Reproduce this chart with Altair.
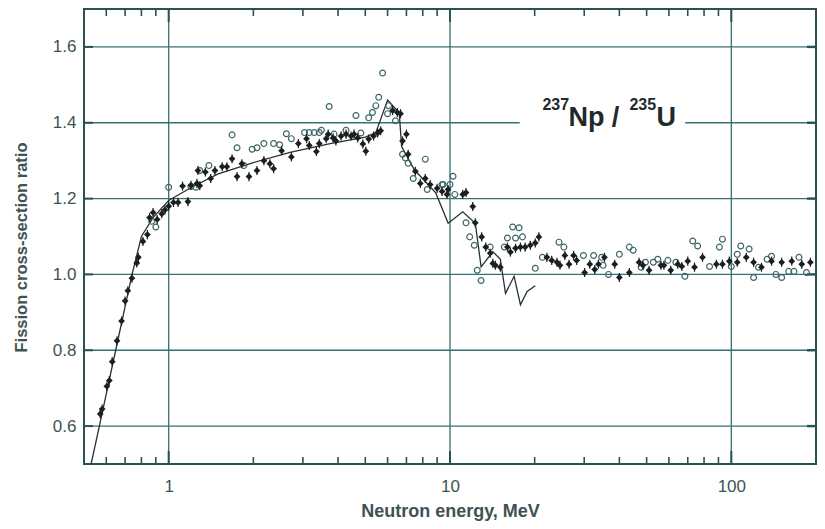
import altair as alt
import pandas as pd

# ---------------- data ----------------
filled_E = [0.571, 0.58, 0.603, 0.615, 0.63, 0.655, 0.68, 0.70, 0.716, 0.74, 0.77, 0.78, 0.81, 0.84,
            0.855, 0.88, 0.91, 0.945, 0.97, 1.0, 1.04, 1.08, 1.12, 1.17, 1.2, 1.26,
            1.27, 1.29, 1.35, 1.41, 1.46, 1.55, 1.61, 1.68, 1.75, 1.82, 1.93, 2.06, 2.18, 2.29, 2.36,
            2.52, 2.73, 2.89, 3.09, 3.16, 3.35, 3.43, 3.63, 3.69, 3.84, 3.93, 4.1, 4.27, 4.45, 4.56,
            4.7, 4.9, 5.02, 5.14, 5.35, 5.53, 5.67, 6.25, 6.5, 6.67, 6.78, 7.0, 7.1, 7.53, 7.84, 8.17,
            8.5, 9.0, 9.37, 9.76, 9.84, 11.1, 11.4, 12.05, 12.3, 12.96, 13.4, 13.9, 14.2, 14.5, 15.1,
            16.0, 16.4, 17.1, 17.8, 18.5, 19.3, 20.1, 20.7, 22.1, 23.0, 24.0, 24.6, 25.6, 26.5, 27.5,
            28.2, 30.1, 31.4, 32.7, 33.7, 35.4, 38.5, 40.0, 43.4, 47.0, 48.5, 51.0, 56.2, 57.6, 60.9,
            64.5, 66.7, 70, 74, 79, 88.5, 93, 98.4, 105, 113, 120, 128, 139, 151, 164, 178, 191]
filled_R = [0.632, 0.645, 0.705, 0.72, 0.77, 0.825, 0.877, 0.93, 0.957, 0.99, 1.03, 1.045, 1.087, 1.105,
            1.15, 1.163, 1.145, 1.16, 1.17, 1.18, 1.19, 1.19, 1.233, 1.192, 1.235, 1.24,
            1.274, 1.234, 1.27, 1.253, 1.274, 1.284, 1.284, 1.305, 1.258, 1.292, 1.258, 1.274, 1.30,
            1.292, 1.279, 1.326, 1.31, 1.345, 1.358, 1.34, 1.324, 1.345, 1.358, 1.37, 1.36, 1.352,
            1.365, 1.37, 1.365, 1.37, 1.36, 1.344, 1.325, 1.357, 1.365, 1.373, 1.379, 1.432, 1.427,
            1.424, 1.352, 1.37, 1.317, 1.272, 1.24, 1.253, 1.237, 1.227, 1.219, 1.211, 1.224, 1.211,
            1.216, 1.179, 1.136, 1.099, 1.072, 1.056, 1.029, 1.024, 1.019, 1.072, 1.059, 1.069, 1.072,
            1.072, 1.077, 1.083, 1.099, 1.045, 1.037, 1.032, 1.024, 1.05, 1.027, 1.05, 1.037, 1.005,
            1.027, 1.013, 1.027, 1.045, 1.027, 0.992, 1.005, 1.032, 1.024, 1.011, 1.024, 1.024, 1.011,
            1.027, 1.021, 1.035, 1.019, 1.045, 1.027, 1.027, 1.035, 1.032, 1.045, 1.032, 1.019, 1.035,
            1.032, 1.035, 1.027, 1.032]
filled_err = 0.012

open_E = [0.87, 0.9, 1.0, 1.2, 1.25, 1.29, 1.39, 1.68, 1.75, 1.85, 1.98, 2.06, 2.18, 2.36, 2.48, 2.62,
          2.73, 3.04, 3.16, 3.29, 3.43, 3.49, 3.72, 3.87, 4.27, 4.63, 4.82, 5.14, 5.3, 5.45, 5.58, 5.76,
          6.0, 6.05, 6.4, 6.78, 6.94, 7.1, 7.4, 8.17, 8.3, 9.37, 9.45, 10.0, 10.25, 10.4, 11.4, 11.75,
          12.2, 12.5, 12.9, 13.9, 15.6, 16.0, 16.7, 17.1, 17.6, 18.1, 20.1, 21.3, 24.4, 25.4, 29.8,
          32.4, 34.6, 35.0, 36.6, 40.0, 43.4, 44.8, 47.8, 49.5, 52.8, 54.8, 59.5, 63.5, 68.4, 72.9,
          75.9, 83.7, 90.7, 93, 100, 105, 108, 115.7, 120, 125, 134, 139, 144, 151, 160, 167, 174, 185]
open_R = [1.14, 1.125, 1.23, 1.232, 1.23, 1.274, 1.287, 1.368, 1.334, 1.287, 1.33, 1.334, 1.345, 1.345,
          1.342, 1.371, 1.358, 1.374, 1.374, 1.374, 1.374, 1.38, 1.443, 1.37, 1.38, 1.419, 1.373, 1.413,
          1.427, 1.445, 1.467, 1.531, 1.424, 1.445, 1.405, 1.317, 1.307, 1.293, 1.253, 1.304, 1.224,
          1.237, 1.237, 1.237, 1.259, 1.211, 1.136, 1.099, 1.077, 1.011, 0.984, 1.072, 1.072, 1.096,
          1.125, 1.096, 1.123, 1.099, 1.016, 1.045, 1.085, 1.072, 1.05, 1.05, 1.045, 1.024, 1.0, 1.053,
          1.072, 1.064, 1.019, 1.032, 1.032, 1.04, 1.037, 1.032, 0.995, 1.088, 1.075, 1.021, 1.072,
          1.093, 1.021, 1.053, 1.075, 1.067, 0.992, 1.019, 1.04, 1.048, 1.0, 0.992, 1.008, 1.008,
          1.045, 1.005]

line_E = [0.53, 0.567, 0.648, 0.741, 0.80, 0.88, 1.0, 1.22, 1.5, 2.0, 2.7, 3.75, 5.0, 5.45, 6.0, 6.6,
          6.73, 7.47, 8.9, 9.85, 11.1, 12.3, 12.9, 14.2, 15.1, 15.75, 16.9, 17.8, 18.8, 20.1]
line_R = [0.50, 0.60, 0.80, 1.00, 1.10, 1.15, 1.195, 1.232, 1.265, 1.295, 1.322, 1.345, 1.362, 1.374,
          1.46, 1.426, 1.337, 1.276, 1.215, 1.135, 1.165, 1.135, 1.02, 1.06, 1.04, 0.95, 0.995, 0.92,
          0.955, 0.97]

x_label_values = [1, 10, 100]
y_label_values = [0.6, 0.8, 1.0, 1.2, 1.4, 1.6]
x_minor = [0.6, 0.7, 0.8, 0.9, 2, 3, 4, 5, 6, 7, 8, 9, 20, 30, 40, 50, 60, 70, 80, 90, 200]
x_domain = [0.5, 200]
y_domain = [0.5, 1.7]
# horizontal grid segments (value, from, to); the 1.4 line is broken by the label
hgrid_R = [0.6, 0.8, 1.0, 1.2, 1.4, 1.4, 1.6]
hgrid_from = [0.5, 0.5, 0.5, 0.5, 0.5, 68.6, 0.5]
hgrid_to = [200, 200, 200, 200, 17.7, 200, 200]
label_E = 21.3
label_R = 1.392

# ---------------- styling ----------------
W, H = 732, 455
FONT = "Liberation Sans"
GRID = "#357070"
FRAME = "#2a5252"
TEXT = "#3e5252"
INK = "#1b1f1f"

xs = alt.Scale(type="log", domain=x_domain)
ys = alt.Scale(domain=y_domain)

xaxis = alt.Axis(values=x_label_values, format="~g", grid=False, ticks=False, domain=False,
                 labelFontSize=17, labelPadding=14, labelColor=TEXT, labelFont=FONT,
                 title="Neutron energy, MeV", titleFontSize=18, titleFontWeight="bold",
                 titleColor=TEXT, titleFont=FONT, titlePadding=8)
yaxis = alt.Axis(values=y_label_values, format=".1f", grid=False, ticks=False, domain=False,
                 labelFontSize=17, labelPadding=8, labelColor=TEXT, labelFont=FONT,
                 title="Fission cross-section ratio", titleFontSize=16.5, titleFontWeight="bold",
                 titleColor=TEXT, titleFont=FONT, titleX=-63, titleY=238,
                 titleAlign="center", titleBaseline="middle")

X = alt.X("E:Q", scale=xs, axis=xaxis)
Y = alt.Y("R:Q", scale=ys, axis=yaxis)

filled_df = pd.DataFrame({"E": filled_E, "R": filled_R})
filled_df["lo"] = filled_df["R"] - filled_err
filled_df["hi"] = filled_df["R"] + filled_err
open_df = pd.DataFrame({"E": open_E, "R": open_R})
line_df = pd.DataFrame({"E": line_E, "R": line_R})
hgrid_df = pd.DataFrame({"R": hgrid_R, "E": hgrid_from, "E2": hgrid_to})
vgrid_df = pd.DataFrame({"E": x_label_values})
minor_df = pd.DataFrame({"E": x_minor})
ytick_df = pd.DataFrame({"R": y_label_values})

hgrid = alt.Chart(hgrid_df).mark_rule(color=GRID, strokeWidth=1.3).encode(x=X, x2="E2:Q", y=Y)
vgrid = alt.Chart(vgrid_df).mark_rule(color=GRID, strokeWidth=1.3).encode(
    x=X, y=alt.value(0), y2=alt.value(H))

major_bot = alt.Chart(vgrid_df).mark_rule(color=FRAME, strokeWidth=2).encode(
    x=X, y=alt.value(H), y2=alt.value(H - 13))
major_top = alt.Chart(vgrid_df).mark_rule(color=FRAME, strokeWidth=2).encode(
    x=X, y=alt.value(0), y2=alt.value(13))
minor_bot = alt.Chart(minor_df).mark_rule(color=FRAME, strokeWidth=1.6).encode(
    x=X, y=alt.value(H), y2=alt.value(H - 7))
minor_top = alt.Chart(minor_df).mark_rule(color=FRAME, strokeWidth=1.6).encode(
    x=X, y=alt.value(0), y2=alt.value(7))
ytick_left = alt.Chart(ytick_df).mark_rule(color=FRAME, strokeWidth=2).encode(
    y=Y, x=alt.value(0), x2=alt.value(9))
ytick_right = alt.Chart(ytick_df).mark_rule(color=FRAME, strokeWidth=2.4).encode(
    y=Y, x=alt.value(W - 9), x2=alt.value(W))

curve = alt.Chart(line_df).mark_line(color="#263232", strokeWidth=1.3, clip=True).encode(x=X, y=Y)

errs = alt.Chart(filled_df).mark_rule(color=INK, strokeWidth=1.2).encode(
    x=X, y=alt.Y("lo:Q", scale=ys, axis=yaxis), y2="hi:Q")
filled = alt.Chart(filled_df).mark_point(shape="diamond", filled=True, size=46, color=INK,
                                         opacity=1).encode(x=X, y=Y)
opens = alt.Chart(open_df).mark_point(shape="circle", filled=False, size=34, color="#3d6464",
                                      strokeWidth=1.2, opacity=1).encode(x=X, y=Y)

lab_df = pd.DataFrame({"E": [label_E], "R": [label_R]})


def piece(txt, size, dx, dy):
    return alt.Chart(lab_df).mark_text(text=txt, font=FONT, fontSize=size, fontWeight="bold",
                                       align="left", baseline="alphabetic", dx=dx, dy=dy,
                                       color="#1f2a2a").encode(x=X, y=Y)


label = (piece("237", 16, 0, -16) + piece("Np /", 27, 26, 0)
         + piece("235", 16, 87, -16) + piece("U", 27, 114, 0))

chart = alt.layer(
    hgrid, vgrid, major_bot, major_top, minor_bot, minor_top, ytick_left, ytick_right,
    curve, opens, errs, filled, label
).properties(
    width=W, height=H,
    autosize=alt.AutoSizeParams(type="none"),
    padding={"left": 76, "top": 1, "right": 1, "bottom": 57},
    background="white"
).configure_view(stroke=FRAME, strokeWidth=2)

chart.save("out.html", embed_options={"renderer": "svg", "actions": False})
